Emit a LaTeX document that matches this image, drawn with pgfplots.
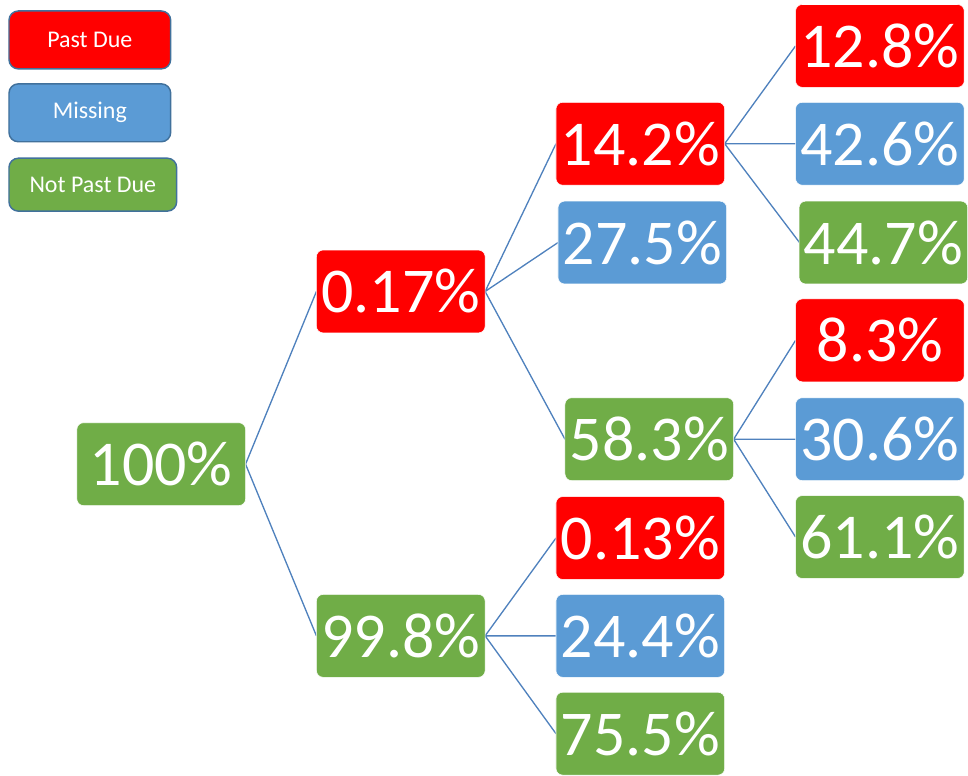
\documentclass[border=0pt]{standalone}
\usepackage{fontspec}
\setmainfont{Carlito}
\usepackage{pgfplots}
\pgfplotsset{compat=1.18}
\definecolor{pdred}{RGB}{255,0,0}
\definecolor{misblue}{RGB}{91,155,213}
\definecolor{npgreen}{RGB}{112,173,71}
\definecolor{edgeblue}{RGB}{65,113,156}
\definecolor{linkblue}{RGB}{79,129,189}

\pgfplotsset{
  box/.style={only marks, mark=none, point meta=explicit symbolic,
    nodes near coords, nodes near coords align=center,
    every node near coord/.append style={anchor=center, rounded corners=5pt,
      fill=#1, draw=white, line width=0.4pt, text=white, inner sep=0pt,
      minimum width=126.75pt, minimum height=62.25pt,
      font=\fontsize{48}{48}\selectfont}},
  key/.style={only marks, mark=none, point meta=explicit symbolic,
    nodes near coords, nodes near coords align=center,
    every node near coord/.append style={anchor=center, rounded corners=7pt,
      fill=#1, draw=edgeblue, line width=1.1pt, text=white, inner sep=0pt,
      minimum width=121.5pt, minimum height=43.5pt,
      font=\fontsize{18}{18}\selectfont}},
  link/.style={linkblue, line width=1pt, line join=round, mark=none},
}

\begin{document}
\begin{tikzpicture}
\begin{axis}[
  x=0.75pt, y=0.75pt, y dir=reverse,
  xmin=0, xmax=968, ymin=0, ymax=775,
  hide axis, clip=false,
]
  % branches (parent right edge -> child left edge)
  \addplot[link] coordinates {(317,292) (246,465) (317,637)};
  \addplot[link] coordinates {(557,144) (486,292) (559,243) (486,292) (566,440)};
  \addplot[link] coordinates {(797,46) (726,144) (797,144) (726,144) (801,243)};
  \addplot[link] coordinates {(797,341) (735,440) (797,440) (735,440) (797,538)};
  \addplot[link] coordinates {(557,539) (486,637) (557,637) (486,637) (557,735)};

  % boxes
  \addplot[box=npgreen] coordinates {
    (161.5,465) [100\%] (401.5,637) [99.8\%] (650.5,440) [58.3\%]
    (641.5,735) [75.5\%] (885,243) [44.7\%] (881.5,538) [61.1\%]};
  \addplot[box=pdred] coordinates {
    (401.5,292) [0.17\%] (641.5,144) [14.2\%] (641.5,539) [0.13\%]
    (881.5,46) [12.8\%] (881.5,341) [8.3\%]};
  \addplot[box=misblue] coordinates {
    (643.5,243) [27.5\%] (641.5,637) [24.4\%] (881.5,144) [42.6\%]
    (881.5,440) [30.6\%]};

  % key
  \addplot[key=pdred] coordinates {(90,40) [Past Due]};
  \addplot[key=misblue] coordinates {(90,113) [Missing]};
  \addplot[key=npgreen, every node near coord/.append style={minimum width=126pt, minimum height=39.75pt}]
    coordinates {(93,185) [Not Past Due]};

  \path (rel axis cs:0,0) rectangle (rel axis cs:1,1);
\end{axis}
\end{tikzpicture}
\end{document}
